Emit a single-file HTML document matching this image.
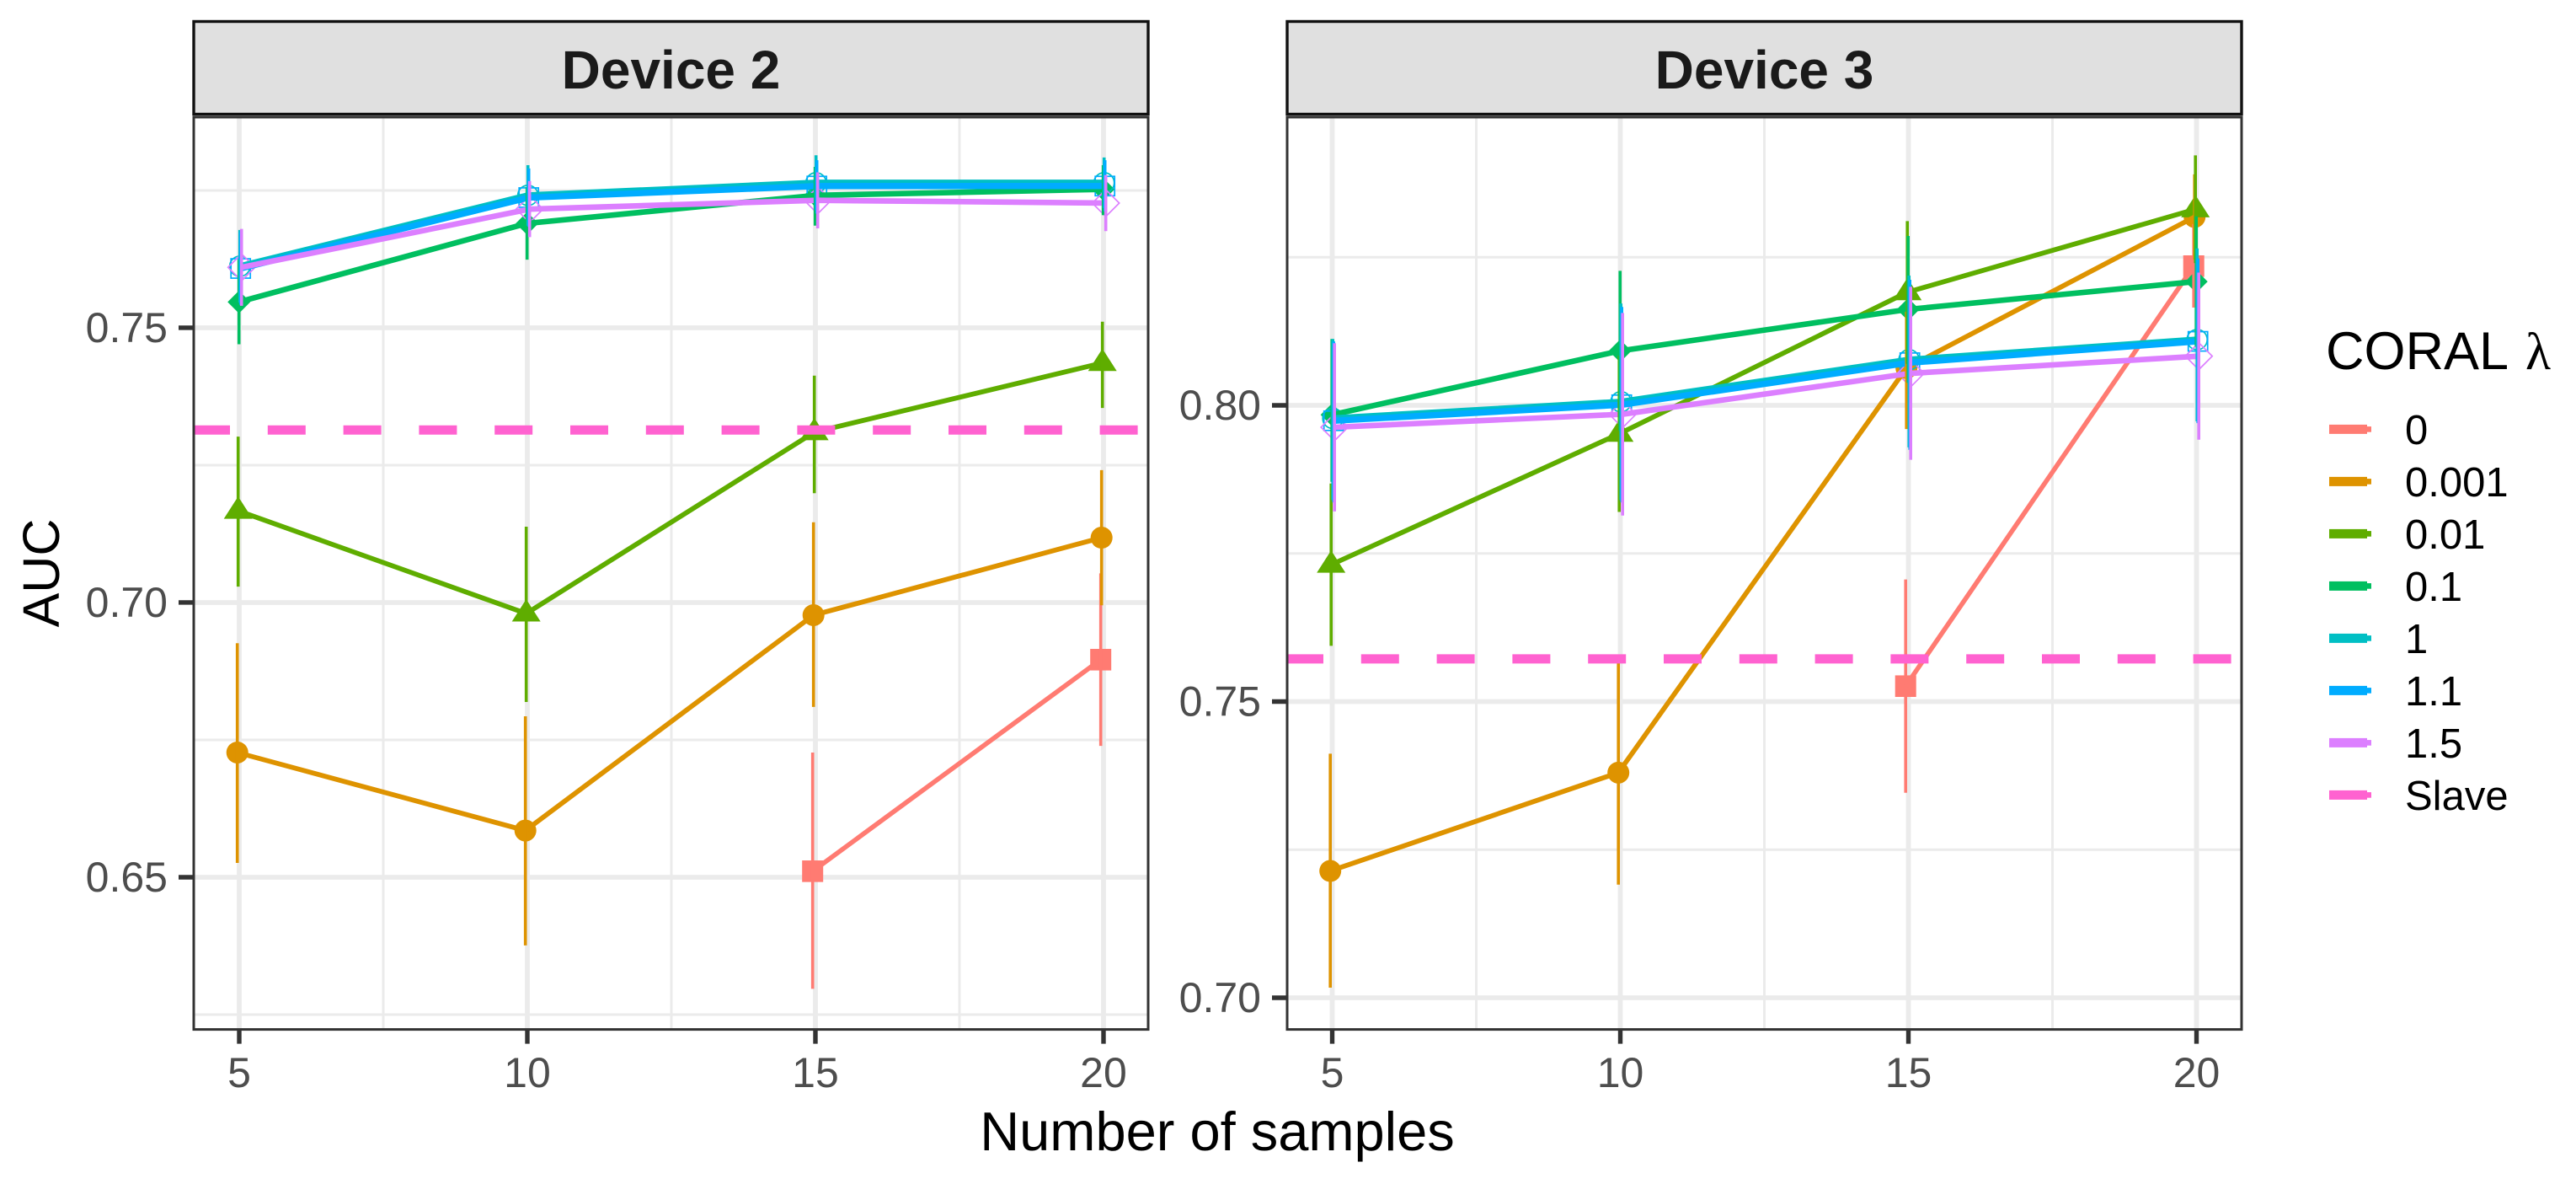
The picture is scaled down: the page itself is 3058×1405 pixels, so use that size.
<!DOCTYPE html>
<html lang="en">
<head>
<meta charset="utf-8">
<title>CORAL AUC by number of samples</title>
<style>
  html, body { margin: 0; padding: 0; background: #ffffff; }
  svg { display: block; }
  text { font-family: "Liberation Sans", sans-serif; }
</style>
</head>
<body>
<svg id="chart" xmlns="http://www.w3.org/2000/svg" width="3058" height="1405" viewBox="0 0 3058 1405"></svg>
<script>
// ---- categories and legend ----
const sampleCounts = [5, 10, 15, 20];
const lambdaLabels = ['0', '0.001', '0.01', '0.1', '1', '1.1', '1.5'];
const legendLabels = ['0', '0.001', '0.01', '0.1', '1', '1.1', '1.5', 'Slave'];
const panelTitles = ['Device 2', 'Device 3'];

// ---- axis ticks ----
const xTickLabels = ['5', '10', '15', '20'];
const xMinorTicks = [7.5, 12.5, 17.5];
const device2YTicks = [0.65, 0.70, 0.75];
const device2YTickLabels = ['0.65', '0.70', '0.75'];
const device2YMinor = [0.625, 0.675, 0.725, 0.775];
const device3YTicks = [0.70, 0.75, 0.80];
const device3YTickLabels = ['0.70', '0.75', '0.80'];
const device3YMinor = [0.725, 0.775, 0.825];

// ---- Device 2 values ----
const device2Lambda0Mean = [null, null, 0.6511, 0.6896];
const device2Lambda0Low = [null, null, 0.6297, 0.6739];
const device2Lambda0High = [null, null, 0.6727, 0.7053];
const device2Lambda001Mean = [0.6727, 0.6585, 0.6977, 0.7118];
const device2Lambda001Low = [0.6526, 0.6376, 0.6810, 0.6995];
const device2Lambda001High = [0.6926, 0.6793, 0.7146, 0.7241];
const device2Lambda01Mean = [0.7167, 0.6980, 0.7310, 0.7436];
const device2Lambda01Low = [0.7029, 0.6819, 0.7199, 0.7354];
const device2Lambda01High = [0.7302, 0.7138, 0.7413, 0.7511];
const device2Lambda1Mean = [0.7547, 0.7690, 0.7741, 0.7752];
const device2Lambda1Low = [0.7470, 0.7624, 0.7686, 0.7705];
const device2Lambda1High = [0.7624, 0.7756, 0.7793, 0.7796];
const device2Lambda10Mean = [0.7612, 0.7741, 0.7764, 0.7764];
const device2Lambda10Low = [0.7546, 0.7686, 0.7714, 0.7718];
const device2Lambda10High = [0.7678, 0.7796, 0.7814, 0.7810];
const device2Lambda11Mean = [0.7608, 0.7737, 0.7758, 0.7758];
const device2Lambda11Low = [0.7542, 0.7684, 0.7708, 0.7712];
const device2Lambda11High = [0.7674, 0.7790, 0.7805, 0.7805];
const device2Lambda15Mean = [0.7610, 0.7716, 0.7732, 0.7727];
const device2Lambda15Low = [0.7540, 0.7665, 0.7681, 0.7676];
const device2Lambda15High = [0.7680, 0.7767, 0.7783, 0.7778];
const device2SlaveValue = [0.7314];

// ---- Device 3 values ----
const device3Lambda0Mean = [null, null, 0.7526, 0.8235];
const device3Lambda0Low = [null, null, 0.7346, 0.8165];
const device3Lambda0High = [null, null, 0.7706, 0.8306];
const device3Lambda001Mean = [0.7214, 0.7380, 0.8063, 0.8318];
const device3Lambda001Low = [0.7017, 0.7191, 0.7960, 0.8246];
const device3Lambda001High = [0.7412, 0.7569, 0.8158, 0.8390];
const device3Lambda01Mean = [0.7731, 0.7952, 0.8191, 0.8331];
const device3Lambda01Low = [0.7594, 0.7820, 0.8070, 0.8240];
const device3Lambda01High = [0.7868, 0.8084, 0.8311, 0.8422];
const device3Lambda1Mean = [0.7984, 0.8092, 0.8162, 0.8209];
const device3Lambda1Low = [0.7871, 0.7957, 0.8038, 0.8099];
const device3Lambda1High = [0.8112, 0.8227, 0.8286, 0.8319];
const device3Lambda10Mean = [0.7978, 0.8006, 0.8077, 0.8111];
const device3Lambda10Low = [0.7840, 0.7840, 0.7929, 0.7973];
const device3Lambda10High = [0.8112, 0.8172, 0.8219, 0.8265];
const device3Lambda11Mean = [0.7974, 0.8001, 0.8072, 0.8108];
const device3Lambda11Low = [0.7836, 0.7836, 0.7925, 0.7970];
const device3Lambda11High = [0.8108, 0.8166, 0.8212, 0.8248];
const device3Lambda15Mean = [0.7963, 0.7985, 0.8054, 0.8083];
const device3Lambda15Low = [0.7821, 0.7814, 0.7908, 0.7942];
const device3Lambda15High = [0.8105, 0.8156, 0.8200, 0.8224];
const device3SlaveValue = [0.7572];

// ---- styling and layout ----
const seriesColors = ['#FF7B72', '#DE9300', '#5FAD00', '#00BF60', '#00BFC4', '#00ACFF', '#DC7FFF', '#FF62D0'];
const lineWidths = [5.6, 5.8, 5.8, 6.6, 7.4, 7.4, 6.6];
const markerKinds = ['square', 'circle', 'triangle', 'diamond', 'openCircle', 'openSquare', 'openDiamond'];

const NS = 'http://www.w3.org/2000/svg';
const svg = document.getElementById('chart');

function make(tag, attrs, parent) {
  const el = document.createElementNS(NS, tag);
  for (const k in attrs) el.setAttribute(k, attrs[k]);
  (parent || svg).appendChild(el);
  return el;
}

function scaleLinear(d0, d1, r0, r1) {
  return function (v) { return r0 + (v - d0) * (r1 - r0) / (d1 - d0); };
}

function drawMarker(kind, cx, cy, color, parent) {
  if (kind === 'square') return make('rect', { x: cx - 12.5, y: cy - 12.8, width: 25, height: 25.6, fill: color }, parent);
  if (kind === 'circle') return make('circle', { cx: cx, cy: cy, r: 13, fill: color }, parent);
  if (kind === 'triangle') return make('polygon', { points: (cx - 17) + ',' + (cy + 9.5) + ' ' + cx + ',' + (cy - 17) + ' ' + (cx + 17) + ',' + (cy + 9.5), fill: color }, parent);
  if (kind === 'diamond') return make('polygon', { points: (cx - 13.5) + ',' + cy + ' ' + cx + ',' + (cy - 13.5) + ' ' + (cx + 13.5) + ',' + cy + ' ' + cx + ',' + (cy + 13.5), fill: color }, parent);
  if (kind === 'openCircle') return make('circle', { cx: cx, cy: cy, r: 12, fill: 'none', stroke: color, 'stroke-width': 1.7 }, parent);
  if (kind === 'openSquare') return make('rect', { x: cx - 11.5, y: cy - 11.5, width: 23, height: 23, fill: 'none', stroke: color, 'stroke-width': 1.7 }, parent);
  return make('polygon', { points: (cx - 16) + ',' + cy + ' ' + cx + ',' + (cy - 16) + ' ' + (cx + 16) + ',' + cy + ' ' + cx + ',' + (cy + 16), fill: 'none', stroke: color, 'stroke-width': 1.7 }, parent);
}

function drawPanel(p) {
  const left = p.left, right = p.left + 1133, top = 139, bottom = 1221.6;
  const x = scaleLinear(p.xDomain[0], p.xDomain[1], left, right);
  const y = scaleLinear(p.yDomain[0], p.yDomain[1], bottom, top);
  const g = make('g', {});
  
  

  const clipId = p.slug + '-clip';
  const clip = make('clipPath', { id: clipId }, g);
  make('rect', { x: left, y: top, width: right - left, height: bottom - top }, clip);

  make('rect', { x: left, y: top, width: right - left, height: bottom - top, fill: '#ffffff' }, g);

  // strip
  const strip = make('rect', { x: left, y: 25.5, width: right - left, height: 110, fill: '#E0E0E0', stroke: '#111111', 'stroke-width': 3.4 }, g);
  
  
  const stripText = make('text', { x: (left + right) / 2, y: 105, 'text-anchor': 'middle', 'font-size': 64, 'font-weight': 700, fill: '#1A1A1A' }, g);
  stripText.textContent = p.title;
  
  

  // grid
  p.yMinor.forEach(function (v) {
    const l = make('line', { x1: left, x2: right, y1: y(v), y2: y(v), stroke: '#EBEBEB', 'stroke-width': 3 }, g);
    
    
  });
  xMinorTicks.forEach(function (v) {
    const l = make('line', { x1: x(v), x2: x(v), y1: top, y2: bottom, stroke: '#EBEBEB', 'stroke-width': 3 }, g);
    
    
  });
  p.yTicks.forEach(function (v) {
    const l = make('line', { x1: left, x2: right, y1: y(v), y2: y(v), stroke: '#EBEBEB', 'stroke-width': 5.8 }, g);
    
    
  });
  sampleCounts.forEach(function (v) {
    const l = make('line', { x1: x(v), x2: x(v), y1: top, y2: bottom, stroke: '#EBEBEB', 'stroke-width': 5.8 }, g);
    
    
  });

  const plot = make('g', { 'clip-path': 'url(#' + clipId + ')' }, g);
  const dodge = function (i) { return (i - 3.3) * 1.0; };

  // points
  p.series.forEach(function (s, i) {
    s.mean.forEach(function (v, j) {
      if (v === null) return;
      const m = drawMarker(markerKinds[i], x(sampleCounts[j]) + dodge(i), y(v), seriesColors[i], plot);
      
      
    });
  });

  // lines
  p.series.forEach(function (s, i) {
    const pts = [];
    s.mean.forEach(function (v, j) {
      if (v !== null) pts.push((x(sampleCounts[j]) + dodge(i)).toFixed(2) + ',' + y(v).toFixed(2));
    });
    const l = make('polyline', { points: pts.join(' '), fill: 'none', stroke: seriesColors[i], 'stroke-width': lineWidths[i], 'stroke-linejoin': 'round' }, plot);
    
    
  });

  // error bars
  p.series.forEach(function (s, i) {
    s.mean.forEach(function (v, j) {
      if (v === null) return;
      const xx = x(sampleCounts[j]) + dodge(i);
      const e = make('line', { x1: xx, x2: xx, y1: y(s.low[j]), y2: y(s.high[j]), stroke: seriesColors[i], 'stroke-width': 3.6 }, plot);
      
      
    });
  });

  // slave reference line
  const slave = make('line', { x1: left, x2: right, y1: y(p.slave[0]), y2: y(p.slave[0]), stroke: seriesColors[7], 'stroke-width': 11, 'stroke-dasharray': '45 44.8', 'stroke-dashoffset': 2 }, plot);
  
  

  // border
  const border = make('rect', { x: left, y: top, width: right - left, height: bottom - top, fill: 'none', stroke: '#333333', 'stroke-width': 3 }, g);
  
  

  // axes
  p.yTicks.forEach(function (v, i) {
    const t = make('line', { x1: left - 18, x2: left, y1: y(v), y2: y(v), stroke: '#333333', 'stroke-width': 5.4 }, g);
    
    
    const lb = make('text', { x: left - 31, y: y(v) + 17, 'text-anchor': 'end', 'font-size': 50, fill: '#4D4D4D' }, g);
    lb.textContent = p.yTickLabels[i];
    
    
  });
  sampleCounts.forEach(function (v, i) {
    const t = make('line', { x1: x(v), x2: x(v), y1: bottom, y2: bottom + 17, stroke: '#333333', 'stroke-width': 5.4 }, g);
    
    
    const lb = make('text', { x: x(v), y: 1290, 'text-anchor': 'middle', 'font-size': 50, fill: '#4D4D4D' }, g);
    lb.textContent = xTickLabels[i];
    
    
  });
}

drawPanel({
  slug: 'device-2', title: panelTitles[0], left: 230,
  xDomain: [4.2105, 20.775], yDomain: [0.6223, 0.78834],
  yTicks: device2YTicks, yTickLabels: device2YTickLabels, yMinor: device2YMinor,
  slave: device2SlaveValue,
  series: [
    { mean: device2Lambda0Mean, low: device2Lambda0Low, high: device2Lambda0High },
    { mean: device2Lambda001Mean, low: device2Lambda001Low, high: device2Lambda001High },
    { mean: device2Lambda01Mean, low: device2Lambda01Low, high: device2Lambda01High },
    { mean: device2Lambda1Mean, low: device2Lambda1Low, high: device2Lambda1High },
    { mean: device2Lambda10Mean, low: device2Lambda10Low, high: device2Lambda10High },
    { mean: device2Lambda11Mean, low: device2Lambda11Low, high: device2Lambda11High },
    { mean: device2Lambda15Mean, low: device2Lambda15Low, high: device2Lambda15High }
  ]
});

drawPanel({
  slug: 'device-3', title: panelTitles[1], left: 1528,
  xDomain: [4.2178, 20.782], yDomain: [0.69465, 0.84865],
  yTicks: device3YTicks, yTickLabels: device3YTickLabels, yMinor: device3YMinor,
  slave: device3SlaveValue,
  series: [
    { mean: device3Lambda0Mean, low: device3Lambda0Low, high: device3Lambda0High },
    { mean: device3Lambda001Mean, low: device3Lambda001Low, high: device3Lambda001High },
    { mean: device3Lambda01Mean, low: device3Lambda01Low, high: device3Lambda01High },
    { mean: device3Lambda1Mean, low: device3Lambda1Low, high: device3Lambda1High },
    { mean: device3Lambda10Mean, low: device3Lambda10Low, high: device3Lambda10High },
    { mean: device3Lambda11Mean, low: device3Lambda11Low, high: device3Lambda11High },
    { mean: device3Lambda15Mean, low: device3Lambda15Low, high: device3Lambda15High }
  ]
});

// axis titles
const xTitle = make('text', { x: 1445, y: 1365, 'text-anchor': 'middle', 'font-size': 65, fill: '#000000' });
xTitle.textContent = 'Number of samples';



const yTitle = make('text', { x: 70, y: 680, 'text-anchor': 'middle', 'font-size': 61, fill: '#000000', transform: 'rotate(-90 70 680)' });
yTitle.textContent = 'AUC';



// legend
const legend = make('g', {});



const legendTitle = make('text', { x: 2761, y: 438, 'font-size': 63, fill: '#000000' }, legend);
legendTitle.textContent = 'CORAL';



const legendLambda = make('text', { x: 2998, y: 438, 'font-size': 62, fill: '#000000', style: 'font-family:"Liberation Serif",serif' }, legend);
legendLambda.textContent = 'λ';



legendLabels.forEach(function (label, i) {
  const cy = 509.4 + i * 62;
  const entry = make('g', {}, legend);
  
  
  make('rect', { x: 2765, y: cy - 5.5, width: 45, height: 11, fill: seriesColors[i] }, entry);
  make('rect', { x: 2810, y: cy - 3.3, width: 5, height: 6.6, fill: seriesColors[i] }, entry);
  const t = make('text', { x: 2855, y: cy + 17.5, 'font-size': 49, fill: '#000000' }, entry);
  t.textContent = label;
  
  
});
</script>
</body>
</html>
